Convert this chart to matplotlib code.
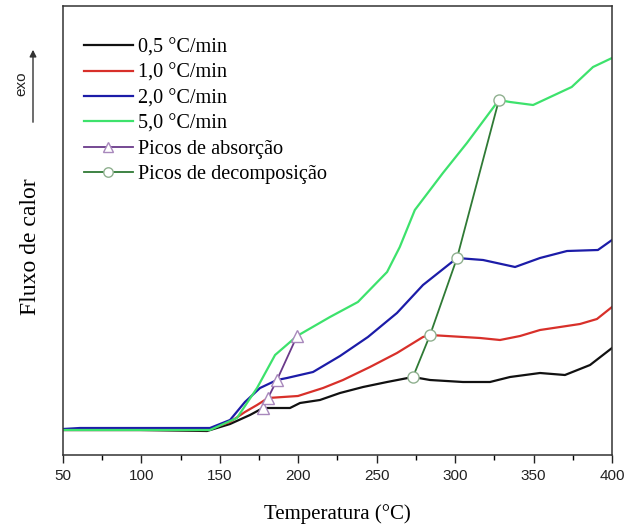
import matplotlib
matplotlib.use("Agg")
import matplotlib.pyplot as plt
from matplotlib.ticker import MultipleLocator

# Heat flow curves (arbitrary units) versus temperature for each heating rate
temp_05 = [50, 99, 141.8, 156.5, 169.2, 177.5, 194.7, 201.1, 213.8, 226.6, 241.3, 256.6,
           273.1, 284, 305, 322.2, 335, 354.1, 370, 386, 400]
flux_05 = [0.25, 0.25, 0.24, 0.31, 0.40, 0.47, 0.47, 0.52, 0.55, 0.62, 0.68, 0.73,
           0.78, 0.75, 0.73, 0.73, 0.78, 0.82, 0.80, 0.90, 1.07]

temp_10 = [50, 102.3, 141.8, 156.5, 166, 173.7, 180.7, 199.8, 215.8, 228.5, 245.7, 262.9,
           279.5, 284, 315.9, 328.6, 341.4, 354.1, 366.9, 379.6, 390.4, 400]
flux_10 = [0.25, 0.25, 0.25, 0.33, 0.43, 0.50, 0.57, 0.59, 0.67, 0.75, 0.88, 1.02,
           1.18, 1.20, 1.17, 1.15, 1.19, 1.25, 1.28, 1.31, 1.36, 1.48]

temp_20 = [50, 60.8, 99, 143.7, 156.5, 166, 175.6, 186.4, 192.8, 209.4, 226.6, 244.4,
           262.9, 279.5, 301.2, 317.8, 338.2, 354.1, 371.3, 391, 400]
flux_20 = [0.26, 0.27, 0.27, 0.27, 0.35, 0.53, 0.67, 0.75, 0.77, 0.83, 0.99, 1.18,
           1.42, 1.70, 1.97, 1.95, 1.88, 1.97, 2.04, 2.05, 2.15]

temp_50 = [50, 143.7, 160.9, 173.7, 185.2, 199.2, 220.2, 238, 256.6, 264.7, 274.3, 292.2,
           307.5, 327.9, 335, 349.7, 374.3, 387.9, 400]
flux_50 = [0.25, 0.25, 0.37, 0.67, 1.00, 1.19, 1.38, 1.53, 1.83, 2.08, 2.45, 2.82,
           3.12, 3.55, 3.53, 3.50, 3.68, 3.88, 3.97]

# Absorption and decomposition peaks (one per heating rate)
abs_temp = [177.5, 180.7, 186.4, 199.2]
abs_flux = [0.47, 0.57, 0.75, 1.19]
dec_temp = [273.1, 284, 301.2, 327.9]
dec_flux = [0.78, 1.20, 1.97, 3.55]

labels = ["0,5 °C/min", "1,0 °C/min", "2,0 °C/min", "5,0 °C/min",
          "Picos de absorção", "Picos de decomposição"]

W, H = 638, 526
fig = plt.figure(figsize=(W / 100, H / 100), dpi=100)
ax = fig.add_axes([63 / W, 1 - 455 / H, (612 - 63) / W, (455 - 6) / H])

lw = 1.6
ax.plot(temp_05, flux_05, color="#111111", lw=lw, label=labels[0])
ax.plot(temp_10, flux_10, color="#d8302a", lw=lw, label=labels[1])
ax.plot(temp_20, flux_20, color="#1c1ca8", lw=lw, label=labels[2])
ax.plot(temp_50, flux_50, color="#3de26c", lw=lw, label=labels[3])
ax.plot(abs_temp, abs_flux, color="#6a3a8a", lw=1.3, marker="^", markersize=9,
        markerfacecolor="white", markeredgecolor="#a888bc", markeredgewidth=1.0,
        label=labels[4], zorder=5)
ax.plot(dec_temp, dec_flux, color="#2f7a35", lw=1.3, marker="o", markersize=8,
        markerfacecolor="white", markeredgecolor="#8fb08f", markeredgewidth=1.0,
        label=labels[5], zorder=5)

ax.set_xlim(50, 400)
ax.set_ylim(0, 4.49)
ax.xaxis.set_major_locator(MultipleLocator(50))
ax.xaxis.set_minor_locator(MultipleLocator(25))
ax.set_yticks([])
ax.tick_params(axis="x", which="major", direction="out", length=6, width=1.0,
               labelsize=11, pad=4, colors="#222222")
ax.tick_params(axis="x", which="minor", direction="out", length=3.5, width=1.0)
for lab in ax.get_xticklabels():
    lab.set_fontfamily("Liberation Sans")
for s in ax.spines.values():
    s.set_linewidth(1.1)
    s.set_color("#333333")

serif = "Liberation Serif"
ax.set_xlabel("Temperatura (°C)", fontfamily=serif, fontsize=15, labelpad=15)
fig.text(30 / W, 1 - 247 / H, "Fluxo de calor", rotation=90, ha="center",
         va="center", fontfamily=serif, fontsize=17)

leg = ax.legend(loc="upper left", bbox_to_anchor=(0.016, 0.955), frameon=False,
                prop={"family": serif, "size": 14.6}, handlelength=2.4,
                handletextpad=0.25, labelspacing=0.30, borderaxespad=0.2,
                markerscale=0.85)

# "exo" direction arrow to the left of the axis
fig.add_artist(matplotlib.patches.FancyArrowPatch(
    (33 / W, 1 - 125 / H), (33 / W, 1 - 47 / H), transform=fig.transFigure,
    arrowstyle="-|>", mutation_scale=10, color="#333333", lw=1.0))
fig.text(21 / W, 1 - 84 / H, "exo", rotation=90, ha="center", va="center",
         fontfamily="Liberation Sans", fontsize=11, color="#222222")

fig.savefig("out.png", dpi=100, facecolor="white")
